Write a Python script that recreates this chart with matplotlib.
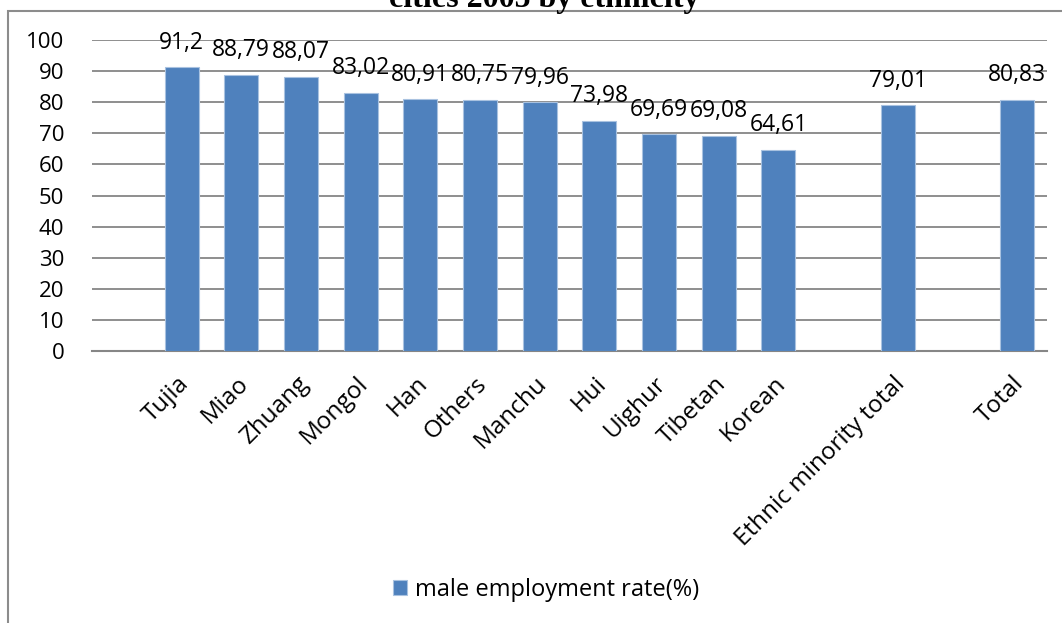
import matplotlib
matplotlib.use("Agg")
import matplotlib.pyplot as plt
from matplotlib.patches import Rectangle
from matplotlib.transforms import ScaledTranslation

plt.rcParams['font.family'] = ['Open Sans', 'DejaVu Sans']

categories = ["Tujia", "Miao", "Zhuang", "Mongol", "Han", "Others", "Manchu",
              "Hui", "Uighur", "Tibetan", "Korean", "Ethnic minority total", "Total"]
values = [91.2, 88.79, 88.07, 83.02, 80.91, 80.75, 79.96,
          73.98, 69.69, 69.08, 64.61, 79.01, 80.83]
labels = ["91,2", "88,79", "88,07", "83,02", "80,91", "80,75", "79,96",
          "73,98", "69,69", "69,08", "64,61", "79,01", "80,83"]
# slot index on the category axis (blank slots between groups)
slots = [1, 2, 3, 4, 5, 6, 7, 8, 9, 10, 11, 13, 15]
y_ticks = [0, 10, 20, 30, 40, 50, 60, 70, 80, 90, 100]

fig = plt.figure(figsize=(10.62, 6.23), dpi=100)
ax = fig.add_axes([92 / 1062, 1 - 351 / 623, 955 / 1062, 311 / 623])

bars = ax.bar(slots, values, width=0.57, color="#4F81BD",
              edgecolor="#A9C2E0", linewidth=0.8, zorder=3,
              label="male employment rate(%)")

for x, v, t in zip(slots, values, labels):
    ax.annotate(t, (x, v), xytext=(0, 13.5), textcoords="offset points",
                ha="center", va="baseline", fontsize=16.5, color="black")

ax.set_xlim(-0.5, 15.5)
ax.set_ylim(0, 100)
ax.set_yticks(y_ticks)
ax.set_xticks(slots)
ax.set_xticklabels(categories, rotation=45, ha="right", va="top")
ax.tick_params(axis="y", length=0, pad=20, labelsize=16)
ax.tick_params(axis="x", length=0, pad=15, labelsize=17.5)
shift = ScaledTranslation(12 / 100, 0, fig.dpi_scale_trans)
for lab in ax.get_xticklabels():
    lab.set_transform(lab.get_transform() + shift)

ax.grid(axis="y", color="#868686", linewidth=1.3, zorder=0)
for s in ["left", "right", "top"]:
    ax.spines[s].set_visible(False)
ax.spines["bottom"].set_color("#868686")
ax.spines["bottom"].set_linewidth(1.5)

# outer chart frame (cut by the image edges)
fig.patches.append(Rectangle((8 / 1062, -0.05), 1.1, 1 - 11 / 623 + 0.05,
                             transform=fig.transFigure, fill=False,
                             edgecolor="#8C8C8C", linewidth=1.5))

fig.text(544 / 1062, 1 - 7.5 / 623, "cities 2005 by ethnicity",
         family="Liberation Serif", fontweight="bold", fontsize=23,
         ha="center", va="baseline")

fig.legend(handles=[bars], loc="center", bbox_to_anchor=(546 / 1062, 1 - 590 / 623),
           frameon=False, fontsize=17, handlelength=0.6, handleheight=0.6,
           handletextpad=0.3)

fig.savefig("out.png", dpi=100)
